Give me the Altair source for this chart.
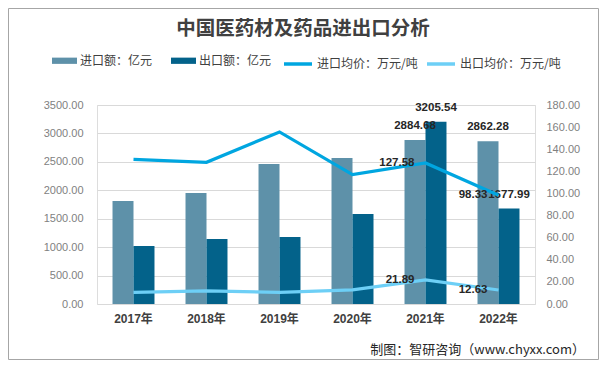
import altair as alt
import pandas as pd

years = ["2017年", "2018年", "2019年", "2020年", "2021年", "2022年"]
import_amt = [1812, 1952, 2463, 2568, 2884.68, 2862.28]
export_amt = [1020, 1143, 1178, 1583, 3205.54, 1677.99]
import_price = [130.9, 128.2, 155.6, 117.0, 127.58, 98.33]
export_price = [10.6, 11.8, 10.5, 12.7, 21.89, 12.63]
labeled_years = ["2021年", "2022年"]
bar_series = ["进口额：亿元", "出口额：亿元"]
line_series = ["进口均价：万元/吨", "出口均价：万元/吨"]
bar_colors = ["#5e91a9", "#03628a"]
line_colors = ["#00a6e0", "#6dcff6"]
left_ticks = [0, 500, 1000, 1500, 2000, 2500, 3000, 3500]
right_ticks = [0, 20, 40, 60, 80, 100, 120, 140, 160, 180]
title_text = "中国医药材及药品进出口分析"
source_text = "制图：智研咨询（www.chyxx.com）"

CJK = "Noto Sans CJK SC"
NUM = "Liberation Sans"

rows_bar = []
for i, y in enumerate(years):
    rows_bar.append({"year": y, "series": bar_series[0], "value": import_amt[i],
                     "label": f"{import_amt[i]:.2f}" if y in labeled_years else ""})
    rows_bar.append({"year": y, "series": bar_series[1], "value": export_amt[i],
                     "label": f"{export_amt[i]:.2f}" if y in labeled_years else ""})
bar_df = pd.DataFrame(rows_bar)

rows_line = []
for i, y in enumerate(years):
    rows_line.append({"year": y, "series": line_series[0], "value": import_price[i],
                      "label": f"{import_price[i]:.2f}" if y in labeled_years else ""})
    rows_line.append({"year": y, "series": line_series[1], "value": export_price[i],
                      "label": f"{export_price[i]:.2f}" if y in labeled_years else ""})
line_df = pd.DataFrame(rows_line)

x_enc = alt.X("year:N", sort=years, title=None,
              scale=alt.Scale(paddingInner=0.425, paddingOuter=0.2125),
              axis=alt.Axis(labelAngle=0, ticks=False, domain=False, labelFontWeight="bold",
                            labelFontSize=12, labelFont=f"{NUM}, {CJK}", labelColor="#404040",
                            labelPadding=9))
xoff = alt.XOffset("series:N", sort=bar_series, scale=alt.Scale(paddingInner=0, paddingOuter=0))
y_left = alt.Y("value:Q", title=None,
               scale=alt.Scale(domain=[0, 3500], nice=False),
               axis=alt.Axis(values=left_ticks, format=".2f", ticks=False, domain=False,
                             gridColor="#d9d9d9", labelColor="#7f7f7f", labelFont=NUM,
                             labelFontSize=11, labelPadding=14))
y_right = alt.Y("value:Q", title=None,
                scale=alt.Scale(domain=[0, 180], nice=False),
                axis=alt.Axis(orient="right", values=right_ticks, format=".2f", ticks=False,
                              domain=False, grid=False, labelColor="#7f7f7f", labelFont=NUM,
                              labelFontSize=11, labelPadding=11))

bars = alt.Chart(bar_df).mark_bar().encode(
    x=x_enc, xOffset=xoff, y=y_left,
    fill=alt.Fill("series:N", sort=bar_series,
                  scale=alt.Scale(domain=bar_series, range=bar_colors),
                  legend=alt.Legend(orient="none", legendX=-45, legendY=-57, direction="horizontal",
                                    title=None, symbolType="M-1,-0.25L1,-0.25L1,0.25L-1,0.25Z",
                                    symbolSize=625, symbolStrokeWidth=0, labelFont=CJK,
                                    labelFontSize=12, labelColor="#404040", labelOffset=3,
                                    columnPadding=18)),
)
bar_labels = alt.Chart(bar_df).mark_text(baseline="middle", dy=-14, fontSize=11.5, fontWeight="bold",
                                         font=NUM, color="#262626").encode(
    x=x_enc, xOffset=xoff, y=y_left, text="label:N",
)

lines = alt.Chart(line_df).mark_line(strokeWidth=3.2).encode(
    x=x_enc, y=y_right,
    stroke=alt.Stroke("series:N", sort=line_series,
                      scale=alt.Scale(domain=line_series, range=line_colors),
                      legend=alt.Legend(orient="none", legendX=185, legendY=-57, direction="horizontal",
                                        title=None, symbolType="M-1,0L1,0", symbolSize=784,
                                        symbolStrokeWidth=3.5, labelFont=CJK,
                                        labelFontSize=12, labelColor="#404040", labelOffset=3,
                                        columnPadding=2)),
    detail="series:N",
)
line_labels = alt.Chart(line_df).mark_text(align="right", baseline="middle", dx=-11, fontSize=11.5,
                                           fontWeight="bold", font=NUM, color="#262626").encode(
    x=x_enc, y=y_right, text="label:N",
)

title_df = pd.DataFrame({"t": [title_text]})
source_df = pd.DataFrame({"t": [source_text]})
title_mark = alt.Chart(title_df).mark_text(fontSize=19.5, fontWeight="bold", font=CJK,
                                           color="#404040", align="center", baseline="middle").encode(
    text="t:N", x=alt.value(206), y=alt.value(-76))
source_mark = alt.Chart(source_df).mark_text(fontSize=13, font=CJK, color="#262626",
                                             align="right", baseline="middle").encode(
    text="t:N", x=alt.value(488), y=alt.value(245))
border = alt.Chart(title_df).mark_rect(fill="transparent", stroke="#a6a6a6", strokeWidth=1).encode(
    x=alt.value(-88.5), x2=alt.value(501.5), y=alt.value(-96.5), y2=alt.value(254.5))

left_layer = alt.layer(bars, bar_labels)
right_layer = alt.layer(lines, line_labels)

chart = alt.layer(border, left_layer, right_layer, title_mark, source_mark).resolve_scale(
    y="independent"
).properties(
    width=438, height=199,
    autosize=alt.AutoSizeParams(type="none"),
    padding={"left": 89, "top": 97, "right": 64, "bottom": 56},
).configure_view(strokeWidth=0, stroke="transparent").configure(background="white")

chart.save("out.html", embed_options={"renderer": "svg", "actions": False})
